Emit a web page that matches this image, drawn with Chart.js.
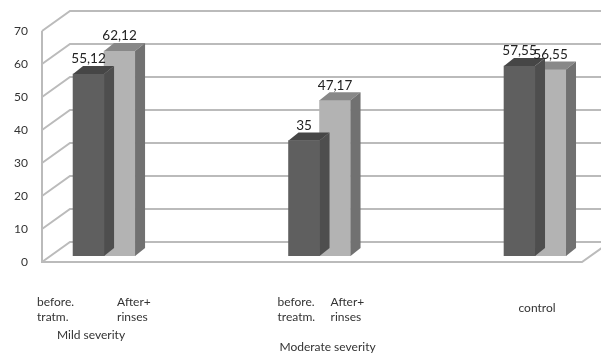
<!DOCTYPE html>
<html>
<head>
<meta charset="utf-8">
<script src="https://cdn.jsdelivr.net/npm/chart.js@4.4.1/dist/chart.umd.min.js"></script>
<style>
html,body{margin:0;padding:0;background:#fff;}
#chart{display:block;}
</style>
</head>
<body>
<canvas id="chart" width="601" height="354"></canvas>
<script>
var groups = ['Mild severity', 'Moderate severity', 'control'];
var beforeLabels = [['before.', 'tratm.'], ['before.', 'treatm.'], []];
var afterLabels = [['After+', 'rinses'], ['After+', 'rinses'], []];
var beforeValues = [55.12, 35, 57.55];
var afterValues = [62.12, 47.17, 56.55];
var yTicks = [0, 10, 20, 30, 40, 50, 60, 70];

// 3d look: wall depth and bar depth offsets
var wallDX = 28, wallFront = 6, wallBack = -14;
var barDX = 10, barDY = -8;
var gridColor = '#bbbbbb';
var faces = [
  {top: '#464646', side: '#4e4e4e'},
  {top: '#888888', side: '#717171'}
];

Chart.defaults.font.family = 'Lato';

function poly(ctx, pts){
  ctx.beginPath();
  ctx.moveTo(pts[0], pts[1]);
  for (var i = 2; i < pts.length; i += 2) ctx.lineTo(pts[i], pts[i+1]);
  ctx.closePath();
  ctx.fill();
}

function fmt(v){
  return String(v).replace('.', ',');
}

var box3d = {
  id: 'box3d',
  beforeDatasetsDraw: function(chart){
    var ctx = chart.ctx, y = chart.scales.y, a = chart.chartArea;
    var x0 = a.left, x1 = a.left + wallDX, xr = chart.width;
    ctx.save();
    ctx.strokeStyle = gridColor;
    ctx.lineWidth = 2;
    ctx.beginPath();
    yTicks.forEach(function(v){
      var p = y.getPixelForValue(v);
      ctx.moveTo(x0, p + wallFront);
      ctx.lineTo(x1, p + wallBack);
      ctx.lineTo(xr, p + wallBack);
    });
    var top = y.getPixelForValue(yTicks[yTicks.length-1]) + wallFront;
    var bot = y.getPixelForValue(0) + wallFront;
    ctx.moveTo(x0, top);
    ctx.lineTo(x0, bot);
    ctx.lineTo(a.right, bot);
    ctx.lineTo(a.right + wallDX, bot + wallBack - wallFront);
    ctx.stroke();
    ctx.restore();
  },
  afterDatasetDraw: function(chart, args){
    var ctx = chart.ctx, c = faces[args.index];
    ctx.save();
    args.meta.data.forEach(function(bar){
      var p = bar.getProps(['x', 'y', 'base', 'width'], true);
      var l = p.x - p.width/2, r = p.x + p.width/2;
      ctx.fillStyle = c.top;
      poly(ctx, [l, p.y, l+barDX, p.y+barDY, r+barDX, p.y+barDY, r, p.y]);
      ctx.fillStyle = c.side;
      poly(ctx, [r, p.y, r+barDX, p.y+barDY, r+barDX, p.base+barDY, r, p.base]);
    });
    ctx.restore();
  },
  afterDatasetsDraw: function(chart){
    var ctx = chart.ctx, xs = chart.scales.x;
    ctx.save();
    // value labels
    ctx.fillStyle = '#222';
    ctx.font = '13.5px Lato';
    ctx.textAlign = 'center';
    ctx.textBaseline = 'middle';
    chart.data.datasets.forEach(function(ds, di){
      chart.getDatasetMeta(di).data.forEach(function(bar, i){
        ctx.fillText(fmt(ds.data[i].y), bar.x, bar.y - 15);
      });
    });
    // category labels under the floor
    var subLeft = [[-67, 13], [-42, 11], [0, 0]];
    var nameShift = [-13, 8, 2];
    var nameY = [335, 347, 308];
    ctx.font = '12px Lato';
    ctx.fillStyle = '#333';
    groups.forEach(function(g, i){
      var cx = xs.getPixelForValue(i);
      ctx.textAlign = 'left';
      [beforeLabels[i], afterLabels[i]].forEach(function(lines, k){
        lines.forEach(function(t, j){
          ctx.fillText(t, cx + subLeft[i][k], 302 + j*15);
        });
      });
      ctx.textAlign = 'center';
      ctx.fillText(g, cx + nameShift[i], nameY[i]);
    });
    ctx.restore();
  }
};

new Chart(document.getElementById('chart'), {
  type: 'bar',
  data: {
    datasets: [
      {
        label: 'before',
        data: beforeValues.map(function(v, i){ return {x: i, y: v}; }),
        backgroundColor: '#5f5f5f',
        barThickness: 31
      },
      {
        label: 'after',
        data: afterValues.map(function(v, i){ return {x: i, y: v}; }),
        backgroundColor: '#b3b3b3',
        barThickness: 31
      }
    ]
  },
  options: {
    responsive: false,
    animation: false,
    layout: {padding: {top: 25, right: 19, bottom: 98, left: 0}},
    plugins: {legend: {display: false}, tooltip: {enabled: false}},
    scales: {
      x: {
        type: 'linear',
        min: -0.288,
        max: 2.218,
        offset: false,
        display: false
      },
      y: {
        min: 0,
        max: 70,
        afterBuildTicks: function(s){ s.ticks = yTicks.map(function(v){ return {value: v}; }); },
        afterFit: function(s){ s.width = 42; },
        grid: {display: false, drawTicks: false},
        border: {display: false},
        ticks: {padding: 14, labelOffset: 6, color: '#333', font: {size: 12}}
      }
    }
  },
  plugins: [box3d]
});
</script>
</body>
</html>
